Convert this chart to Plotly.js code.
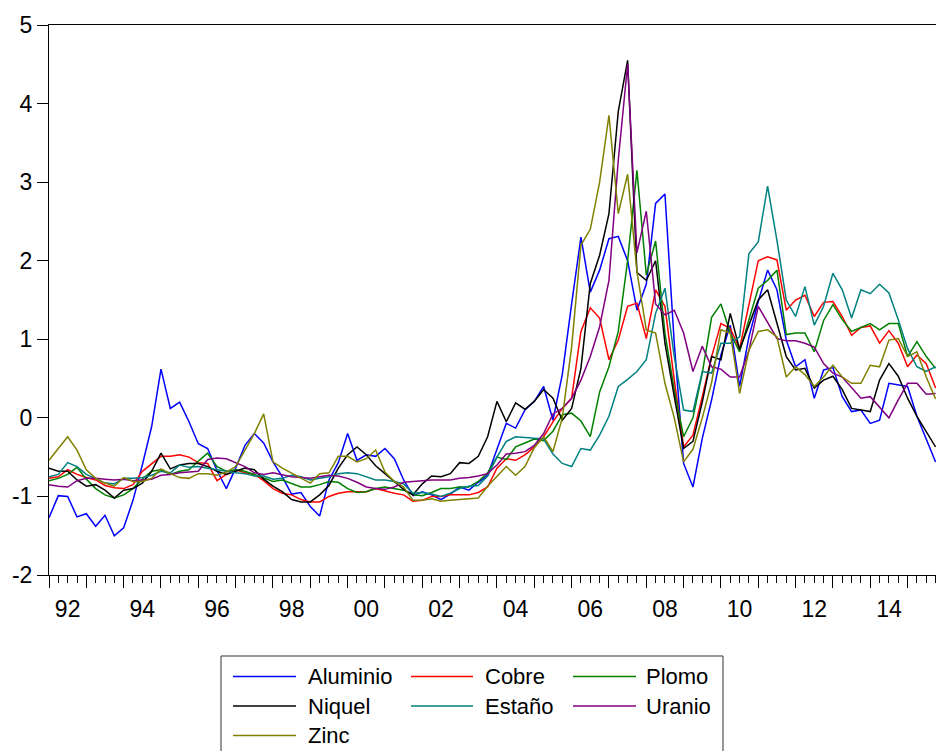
<!DOCTYPE html>
<html><head><meta charset="utf-8">
<script src="https://cdn.plot.ly/plotly-3.0.1.min.js"></script>
<style>html,body{margin:0;padding:0;overflow:hidden;background:#fff}</style>
</head><body><div id="chart" style="width:936px;height:751px"></div>
<script>
// Quarterly observations starting 1992Q1
const startYear = 1992;
const aluminio = [-1.27,-0.99,-1.0,-1.26,-1.22,-1.38,-1.24,-1.5,-1.4,-1.05,-0.6,-0.11,0.62,0.12,0.2,-0.05,-0.33,-0.39,-0.67,-0.9,-0.64,-0.35,-0.2,-0.32,
-0.56,-0.75,-0.97,-0.95,-1.13,-1.25,-0.79,-0.57,-0.2,-0.54,-0.47,-0.49,-0.39,-0.52,-0.79,-0.99,-0.94,-0.98,-1.04,-0.97,-0.88,-0.92,-0.82,-0.73,-0.4,-0.07,
-0.13,0.1,0.21,0.4,-0.03,0.55,1.45,2.3,1.6,1.88,2.28,2.31,2.0,1.37,1.7,2.73,2.85,0.95,-0.58,-0.88,-0.26,0.23,
0.8,1.18,0.4,1.03,1.48,1.88,1.63,0.99,0.65,0.74,0.25,0.61,0.64,0.27,0.08,0.1,-0.07,-0.03,0.44,0.42,0.4,0.02,-0.28,-0.56];
const cobre = [-0.77,-0.75,-0.66,-0.72,-0.76,-0.79,-0.86,-0.89,-0.9,-0.85,-0.68,-0.58,-0.49,-0.49,-0.47,-0.5,-0.57,-0.58,-0.8,-0.72,-0.66,-0.7,-0.72,-0.8,
-0.9,-0.96,-0.98,-1.04,-1.07,-1.07,-1.0,-0.96,-0.94,-0.94,-0.94,-0.9,-0.93,-0.96,-0.98,-1.06,-1.05,-1.0,-1.0,-0.98,-0.98,-0.98,-0.95,-0.88,-0.64,-0.52,
-0.54,-0.47,-0.37,-0.24,-0.05,0.12,0.25,1.1,1.4,1.27,0.74,0.99,1.42,1.46,1.01,1.63,1.42,0.48,-0.37,-0.22,0.27,0.78,
1.2,1.14,0.88,1.46,2.0,2.05,2.01,1.37,1.5,1.56,1.29,1.47,1.48,1.29,1.05,1.15,1.17,0.95,1.11,0.95,0.65,0.8,0.69,0.38];
const plomo = [-0.8,-0.77,-0.72,-0.63,-0.78,-0.9,-0.98,-1.02,-0.98,-0.9,-0.78,-0.68,-0.66,-0.72,-0.68,-0.66,-0.55,-0.45,-0.62,-0.68,-0.66,-0.68,-0.72,-0.77,
-0.81,-0.79,-0.84,-0.88,-0.88,-0.85,-0.81,-0.82,-0.9,-0.95,-0.94,-0.9,-0.88,-0.9,-0.92,-0.98,-0.99,-0.95,-0.9,-0.9,-0.88,-0.88,-0.81,-0.7,-0.5,-0.53,
-0.37,-0.32,-0.27,-0.29,-0.17,0.04,0.06,-0.04,-0.24,0.33,0.65,1.1,2.0,3.15,1.82,2.25,1.08,0.35,-0.24,0.0,0.57,1.28,
1.45,1.08,0.84,1.25,1.65,1.75,1.88,1.06,1.08,1.08,0.84,1.24,1.44,1.25,1.1,1.15,1.2,1.12,1.2,1.2,0.78,0.97,0.78,0.63];
const niquel = [-0.64,-0.68,-0.68,-0.79,-0.87,-0.85,-0.92,-1.02,-0.92,-0.9,-0.83,-0.68,-0.45,-0.65,-0.6,-0.58,-0.58,-0.62,-0.68,-0.72,-0.68,-0.64,-0.66,-0.78,
-0.87,-0.94,-1.04,-1.07,-1.07,-0.98,-0.86,-0.64,-0.47,-0.37,-0.47,-0.61,-0.71,-0.81,-0.91,-0.98,-0.84,-0.74,-0.75,-0.71,-0.57,-0.58,-0.49,-0.24,0.21,-0.05,
0.19,0.11,0.21,0.36,0.25,-0.03,0.12,0.63,1.71,2.07,2.6,3.9,4.55,1.85,1.75,2.0,0.95,0.27,-0.39,-0.3,0.2,0.78,
0.74,1.33,0.87,1.18,1.5,1.63,1.22,0.78,0.61,0.63,0.38,0.48,0.53,0.36,0.12,0.1,0.08,0.48,0.69,0.53,0.25,0.02,-0.18,-0.37];
const estano = [-0.75,-0.72,-0.57,-0.62,-0.72,-0.78,-0.83,-0.84,-0.77,-0.77,-0.76,-0.73,-0.68,-0.7,-0.6,-0.63,-0.62,-0.64,-0.66,-0.68,-0.7,-0.71,-0.74,-0.74,
-0.78,-0.77,-0.73,-0.75,-0.79,-0.77,-0.75,-0.71,-0.7,-0.71,-0.75,-0.79,-0.79,-0.81,-0.84,-0.96,-0.95,-0.97,-1.0,-0.96,-0.9,-0.87,-0.86,-0.74,-0.5,-0.3,
-0.24,-0.25,-0.26,-0.27,-0.46,-0.58,-0.62,-0.39,-0.41,-0.22,0.02,0.4,0.49,0.59,0.74,1.33,1.65,0.78,0.1,0.08,0.59,0.57,
0.95,0.95,1.03,2.09,2.24,2.95,2.26,1.5,1.29,1.67,1.18,1.42,1.84,1.63,1.27,1.63,1.58,1.7,1.59,1.25,0.88,0.65,0.59,0.65];
const uranio = [-0.85,-0.87,-0.88,-0.8,-0.77,-0.77,-0.78,-0.79,-0.78,-0.8,-0.79,-0.78,-0.73,-0.72,-0.7,-0.69,-0.68,-0.53,-0.51,-0.52,-0.57,-0.62,-0.7,-0.72,
-0.7,-0.73,-0.75,-0.76,-0.77,-0.75,-0.73,-0.74,-0.77,-0.82,-0.88,-0.9,-0.91,-0.88,-0.82,-0.81,-0.8,-0.79,-0.79,-0.79,-0.77,-0.76,-0.74,-0.71,-0.6,-0.46,
-0.45,-0.43,-0.35,-0.2,0.05,0.12,0.25,0.48,0.78,1.16,1.75,3.28,4.5,2.1,2.63,1.45,1.31,1.37,1.08,0.59,0.91,0.65,
0.62,0.52,0.52,0.86,1.42,1.22,1.01,0.98,0.98,0.95,0.9,0.69,0.57,0.52,0.39,0.25,0.27,0.14,0.0,0.23,0.44,0.44,0.3,0.31];
const zinc = [-0.54,-0.39,-0.24,-0.41,-0.66,-0.77,-0.83,-0.87,-0.76,-0.81,-0.81,-0.77,-0.65,-0.71,-0.76,-0.77,-0.71,-0.71,-0.73,-0.69,-0.62,-0.41,-0.2,0.05,
-0.56,-0.64,-0.7,-0.77,-0.83,-0.71,-0.7,-0.49,-0.49,-0.56,-0.52,-0.41,-0.69,-0.81,-0.88,-1.05,-1.05,-1.03,-1.06,-1.05,-1.04,-1.03,-1.02,-0.87,-0.74,-0.62,
-0.73,-0.62,-0.38,-0.24,-0.43,0.0,0.9,2.2,2.4,3.0,3.85,2.6,3.1,1.86,1.12,1.08,0.44,0.0,-0.56,-0.4,0.0,0.45,
1.12,1.08,0.31,0.86,1.1,1.12,1.03,0.52,0.65,0.55,0.4,0.52,0.67,0.52,0.44,0.44,0.67,0.65,0.99,1.01,0.78,0.84,0.52,0.24];

const seriesNames  = ['Aluminio','Cobre','Plomo','Niquel','Estaño','Uranio','Zinc'];
const seriesColors = ['#0000FF','#FF0000','#008000','#000000','#008080','#800080','#808000'];
const seriesValues = [aluminio, cobre, plomo, niquel, estano, uranio, zinc];

const yTicks = [-2,-1,0,1,2,3,4,5];
const yTickText = ['-2','-1','0','1','2','3','4','5'];
const yearTicks = [];
for (let y = 1992; y <= 2015; y++) yearTicks.push(y);
const labelYears = [1992,1994,1996,1998,2000,2002,2004,2006,2008,2010,2012,2014];
const labelText = labelYears.map(y => String(y).slice(2));

const W = 936, H = 751;
const M = {l:49, r:0, t:25, b:176};
const plotW = W - M.l - M.r, plotH = H - M.t - M.b;
const pxPerYear = 37.33;
const xRange = [startYear, startYear + plotW / pxPerYear];
const FONT = '"Liberation Sans", Arial, Helvetica, sans-serif';

const traces = seriesValues.map((vals, i) => ({
  type: 'scatter', mode: 'lines',
  x: vals.map((_, k) => startYear + k / 4),
  y: vals,
  name: seriesNames[i],
  line: {color: seriesColors[i], width: 1.5},
  showlegend: false, hoverinfo: 'skip'
}));
traces.push({type:'scatter', mode:'lines', x:[startYear], y:[null], xaxis:'x2', yaxis:'y', showlegend:false, hoverinfo:'skip'});

// manual legend (3 columns)
const pxX = px => (px - M.l) / plotW;
const pxY = py => (H - M.b - py) / plotH;
const colLine = [[233,296],[411,473],[573,636]];
const colText = [306,483,644];
const rowY = [676.5, 706, 735.5];
const shapes = [{type:'rect', xref:'paper', yref:'paper', x0:pxX(221), x1:pxX(723), y0:pxY(775), y1:pxY(656), line:{color:'#333', width:1}, fillcolor:'rgba(0,0,0,0)'}];
const annotations = [];
seriesNames.forEach((n, i) => {
  const r = Math.floor(i / 3), c = i % 3;
  shapes.push({type:'line', xref:'paper', yref:'paper', x0:pxX(colLine[c][0]), x1:pxX(colLine[c][1]), y0:pxY(rowY[r]), y1:pxY(rowY[r]), line:{color:seriesColors[i], width:1.3}});
  annotations.push({xref:'paper', yref:'paper', x:pxX(colText[c]), y:pxY(rowY[r]), xanchor:'left', yanchor:'middle', text:n, showarrow:false, font:{family:FONT, size:22, color:'#000'}});
});

const layout = {
  width: W, height: H, margin: M,
  paper_bgcolor:'#fff', plot_bgcolor:'#fff',
  font: {family: FONT, color:'#000'},
  showlegend: false,
  xaxis: {
    range: xRange, showgrid:false, zeroline:false,
    showline:true, linecolor:'#000', linewidth:1, mirror:true,
    tickmode:'array', tickvals: yearTicks, ticks:'outside', ticklen:12, tickcolor:'#000', tickwidth:1,
    showticklabels:false,
    minor: {tickmode:'linear', tick0: startYear, dtick:0.25, ticks:'outside', ticklen:7, tickcolor:'#000', tickwidth:1, showgrid:false}
  },
  xaxis2: {
    overlaying:'x', matches:'x', range: xRange, side:'bottom', anchor:'y',
    showgrid:false, zeroline:false, showline:false,
    tickmode:'array', tickvals: labelYears.map(y => y + 0.5), ticktext: labelText,
    ticks:'outside', ticklen:13, tickcolor:'rgba(0,0,0,0)',
    tickfont:{family:FONT, size:23, color:'#000'}
  },
  yaxis: {
    range:[-2,5], showgrid:false, zeroline:false,
    showline:true, linecolor:'#000', linewidth:1,
    tickmode:'array', tickvals: yTicks, ticktext: yTickText, ticks:'outside', ticklen:11, tickcolor:'#000', tickwidth:1,
    tickfont:{family:FONT, size:23, color:'#000'}
  },
  shapes: shapes,
  annotations: annotations
};

Plotly.newPlot('chart', traces, layout, {staticPlot:true, displayModeBar:false});
</script>
</body></html>
